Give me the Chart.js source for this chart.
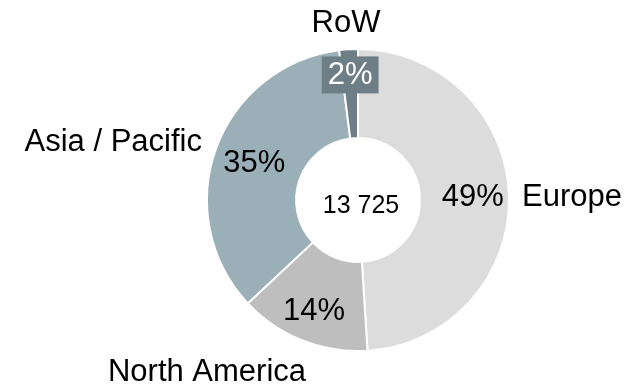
<!DOCTYPE html>
<html>
<head>
<meta charset="utf-8">
<script src="https://cdn.jsdelivr.net/npm/chart.js@4.4.1/dist/chart.umd.min.js"></script>
<style>
    html, body { margin: 0; padding: 0; background: #ffffff; }
    #regionChart { display: block; }
</style>
</head>
<body>
<canvas id="regionChart" width="635" height="386"></canvas>
<script>
const regions = ['Europe', 'North America', 'Asia / Pacific', 'RoW'];
const sales = [6725, 1922, 4804, 274];
const sliceColors = ['#dcdcdc', '#bebebe', '#9aafb8', '#6e7e86'];

function formatTotal(value) {
    return String(value).replace(/\B(?=(\d{3})+(?!\d))/g, ' ');
}

// percentage inside each ring segment, region name outside the ring, total in the hole
const ringLabels = {
    id: 'ringLabels',
    afterDatasetsDraw(chart) {
        const ctx = chart.ctx;
        const meta = chart.getDatasetMeta(0);
        const values = chart.data.datasets[0].data;
        const total = values.reduce((a, b) => a + b, 0);
        const first = meta.data[0];
        const cx = first.x;
        const cy = first.y;
        const outer = first.outerRadius;

        // distance of the percentage from the centre, as a share of the outer radius
        const pctRadius = [0.76, 0.79, 0.73, 0.83];
        // where each region name sits, relative to the centre
        const nameOffsets = [
            { dx: 164, dy: -3, align: 'left' },
            { dx: -151, dy: 172, align: 'center' },
            { dx: -156, dy: -58, align: 'right' },
            { dx: -12, dy: -177, align: 'center' }
        ];

        ctx.save();
        ctx.textBaseline = 'middle';

        meta.data.forEach((arc, i) => {
            const mid = (arc.startAngle + arc.endAngle) / 2;
            const r = outer * pctRadius[i];
            const x = cx + Math.cos(mid) * r;
            const y = cy + Math.sin(mid) * r;
            const text = Math.round(values[i] / total * 100) + '%';

            ctx.font = '31px "Liberation Sans", Arial, sans-serif';
            ctx.textAlign = 'center';
            if (i === 3) {
                const w = ctx.measureText(text).width + 12;
                ctx.fillStyle = sliceColors[i];
                ctx.fillRect(x - w / 2, y - 18.5, w, 37);
                ctx.fillStyle = '#ffffff';
            } else {
                ctx.fillStyle = '#000000';
            }
            ctx.fillText(text, x, y + 1);

            const n = nameOffsets[i];
            ctx.fillStyle = '#000000';
            ctx.textAlign = n.align;
            ctx.fillText(regions[i], cx + n.dx, cy + n.dy);
        });

        ctx.font = '25px "Liberation Sans", Arial, sans-serif';
        ctx.textAlign = 'center';
        ctx.fillStyle = '#000000';
        ctx.fillText(formatTotal(total), cx + 3, cy + 6);
        ctx.restore();
    }
};

const chart = new Chart(document.getElementById('regionChart'), {
    type: 'doughnut',
    data: {
        labels: regions,
        datasets: [{
            data: sales,
            backgroundColor: sliceColors,
            borderColor: '#ffffff',
            borderWidth: 2,
            borderAlign: 'center'
        }]
    },
    options: {
        responsive: false,
        animation: false,
        devicePixelRatio: 1,
        cutout: '41%',
        layout: {
            padding: { top: 48, bottom: 34, left: 206, right: 125 }
        },
        plugins: {
            legend: { display: false },
            tooltip: { enabled: false }
        }
    },
    plugins: [ringLabels]
});
</script>
</body>
</html>
